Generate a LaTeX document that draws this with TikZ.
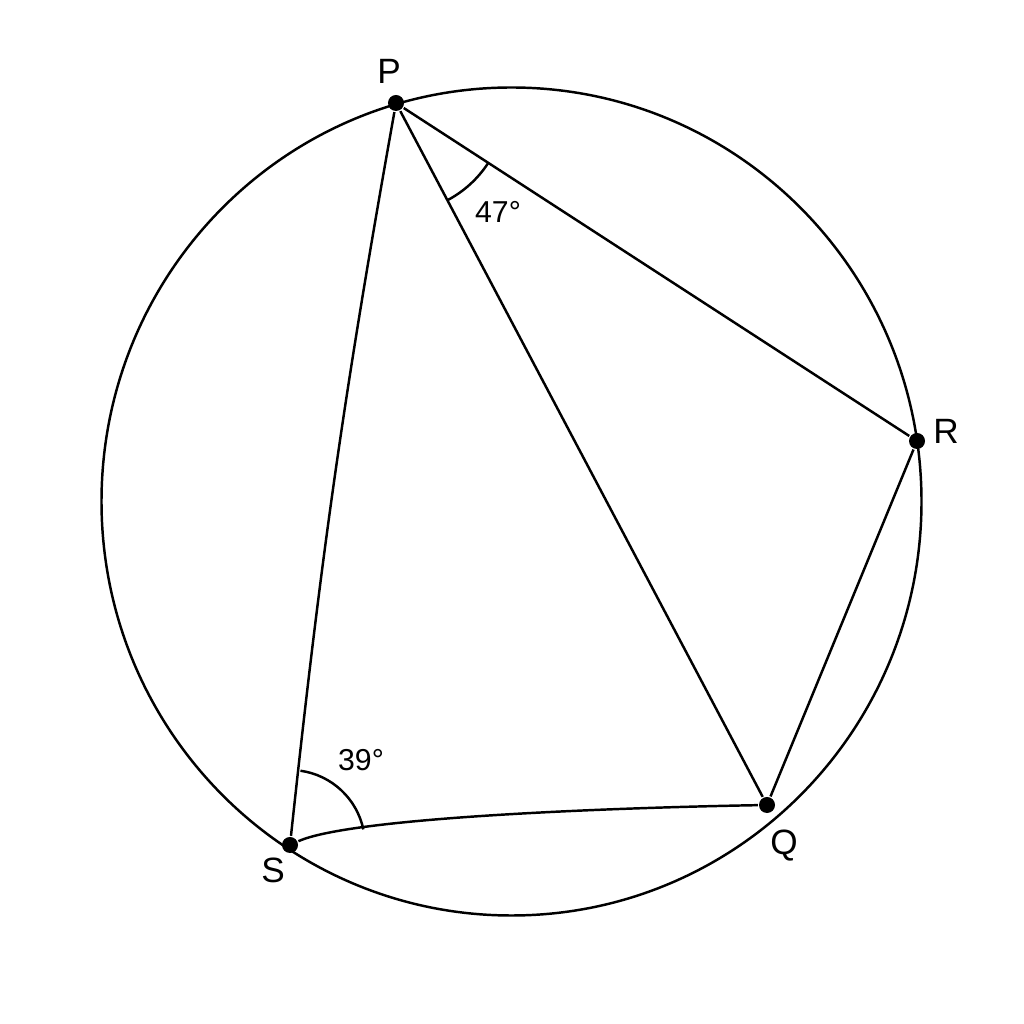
\documentclass[tikz,border=0pt]{standalone}
\usepackage{fontspec}
\setmainfont{Liberation Sans}
\begin{document}
\begin{tikzpicture}[x=0.01cm,y=0.01cm,
  line width=0.7pt,
  dot/.style={circle,fill=black,inner sep=0pt,minimum size=0.16cm},
  ptlabel/.style={font=\fontsize{10}{12}\selectfont,inner sep=0pt},
  anglabel/.style={font=\fontsize{8.6}{10}\selectfont,inner sep=0pt}]
\useasboundingbox (0,0) rectangle (1024,1024);
\fill[white] (0,0) rectangle (1024,1024);
\coordinate (O) at (511.5,522.5);
\draw (O) ellipse [x radius=410, y radius=414];
\node[dot] (P) at (396,921) {};
\node[dot] (R) at (917,583) {};
\node[dot] (Q) at (767,219) {};
\node[dot] (S) at (290,179) {};
\draw (P) to[bend right=2] (S);
\draw (P) -- (Q);
\draw (P) -- (R);
\draw (R) -- (Q);
\draw (S) .. controls (350,206) and (600,216) .. (Q);
\draw ([shift={(-62.1:110)}]P.center) arc[start angle=-62.1, end angle=-33, radius=110];
\draw ([shift={(12:75)}]S.center) arc[start angle=12, end angle=82, radius=75];
\node[ptlabel] (lP) at (389,953) {P};
\node[ptlabel] (lR) at (946,593) {R};
\node[ptlabel] (lQ) at (784,178) {Q};
\node[ptlabel] (lS) at (273,154) {S};
\node[anglabel] (a47) at (498,812) {47°};
\node[anglabel] (a39) at (361,264) {39°};
\end{tikzpicture}
\end{document}
